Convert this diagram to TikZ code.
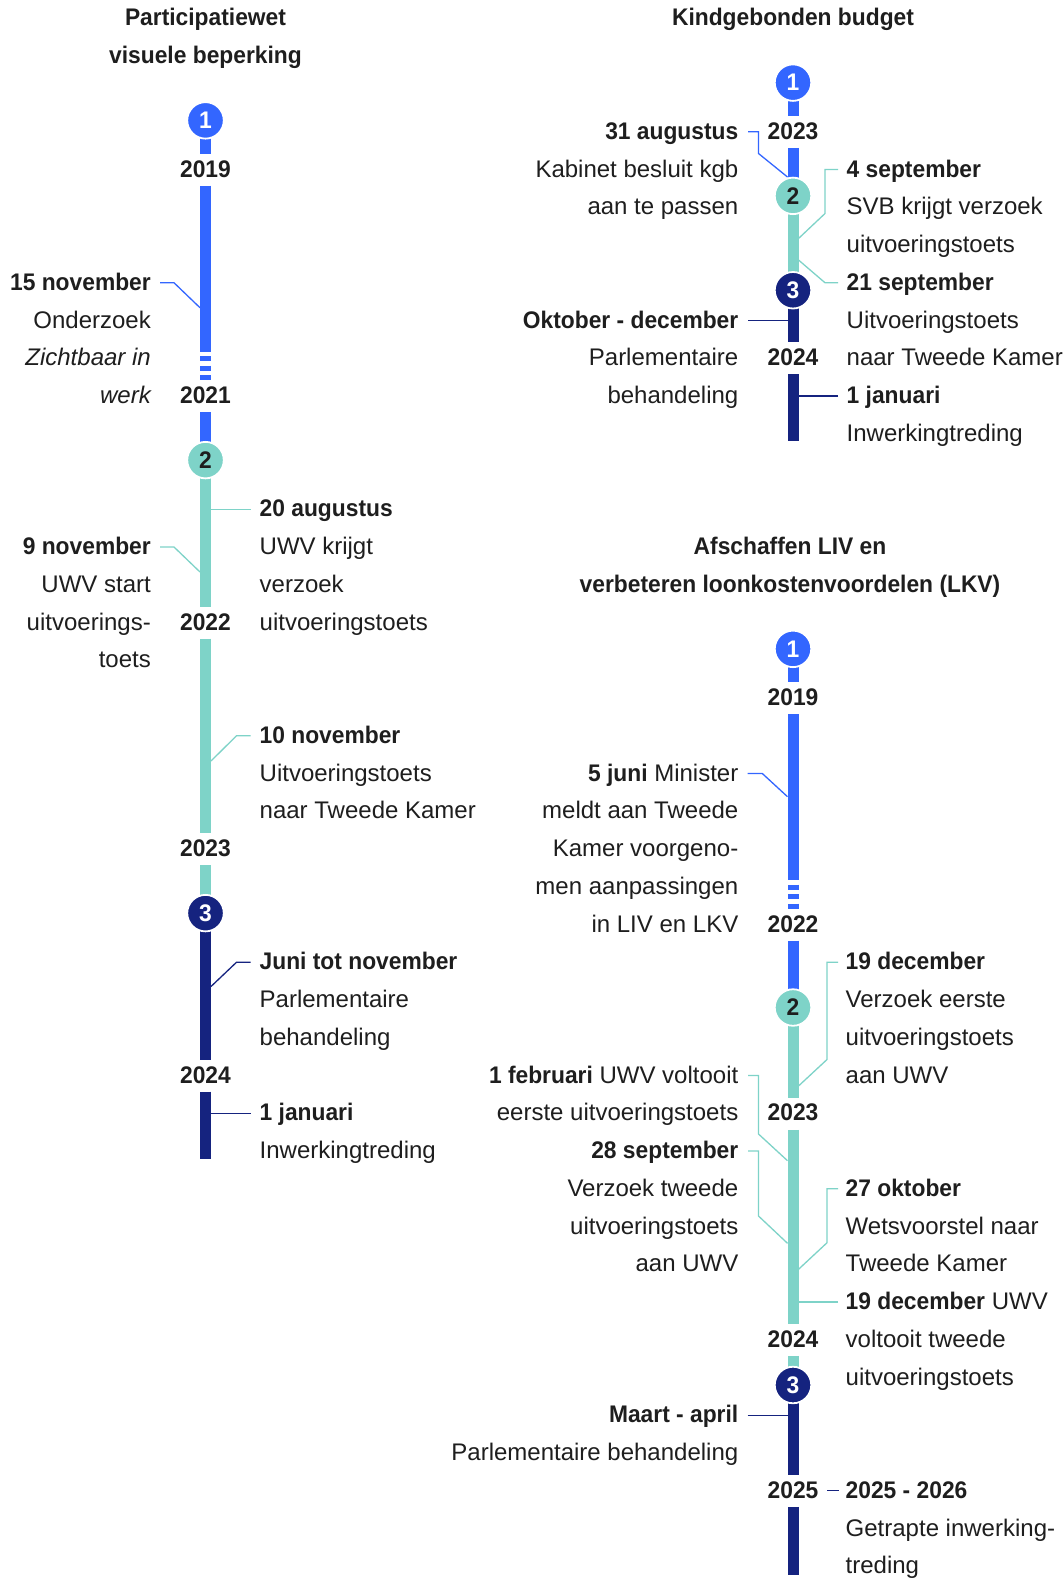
\documentclass[tikz,border=0pt]{standalone}
\usepackage{fontspec}
\setmainfont{Liberation Sans}[BoldFeatures={FakeStretch=0.95}]
\definecolor{cblue}{HTML}{3366FF}
\definecolor{cteal}{HTML}{7ED3C8}
\definecolor{cnavy}{HTML}{15237F}
\definecolor{ink}{HTML}{1E1E1E}
\begin{document}
\begin{tikzpicture}[x=1pt,y=-1pt,
  declare function={ry(\k)=26+37.75*\k;},
  txt/.style={inner sep=0pt, text=ink, font=\fontsize{24}{29}\selectfont},
  lt/.style={txt, anchor=base east},
  rt/.style={txt, anchor=base west},
  ctr/.style={txt, anchor=base, font=\fontsize{24}{29}\selectfont\bfseries},
  bar/.style={line width=11pt, line cap=butt},
  con/.style={line width=1.3pt, line join=miter},
  conB/.style={con, cblue},
  conT/.style={con, cteal},
  conN/.style={con, cnavy},
  num/.style={circle, inner sep=0pt, minimum size=36.5pt, draw=white, line width=1.8pt, font=\fontsize{24}{24}\selectfont\bfseries},
]
\useasboundingbox (0,0) rectangle (1064,1579);
\fill[white] (0,0) rectangle (1064,1579);

% ================= LEFT TIMELINE =================
\draw[bar,cblue] (205.5,120.4) -- (205.5,153.5) (205.5,185.5) -- (205.5,351.5)
  (205.5,356) -- (205.5,361) (205.5,365.5) -- (205.5,370.5) (205.5,375) -- (205.5,380)
  (205.5,412) -- (205.5,460.1);
\draw[bar,cteal] (205.5,460.1) -- (205.5,606.5) (205.5,638.5) -- (205.5,833) (205.5,865) -- (205.5,913.1);
\draw[bar,cnavy] (205.5,913.1) -- (205.5,1059.5) (205.5,1091.5) -- (205.5,1158.5);

\node[num, fill=cblue, text=white] (A1) at (205.5,{ry(2.5)}) {1};
\node[num, fill=cteal, text=ink] (A2) at (205.5,{ry(11.5)}) {2};
\node[num, fill=cnavy, text=white] (A3) at (205.5,{ry(23.5)}) {3};

\node[ctr] (At1) at (205.5,{ry(0)}) {Participatiewet};
\node[ctr] (At2) at (205.5,{ry(1)}) {visuele beperking};
\node[ctr] (Ay19) at (205.5,{ry(4)}) {2019};
\node[ctr] (Ay21) at (205.5,{ry(10)}) {2021};
\node[ctr] (Ay22) at (205.5,{ry(16)}) {2022};
\node[ctr] (Ay23) at (205.5,{ry(22)}) {2023};
\node[ctr] (Ay24) at (205.5,{ry(28)}) {2024};

\node[lt] (A7l) at (151,{ry(7)}) {\textbf{15 november}};
\node[lt] (A8l) at (151,{ry(8)}) {Onderzoek};
\node[lt] (A9l) at (151,{ry(9)}) {\itshape Zichtbaar in};
\node[lt] (A10l) at (151,{ry(10)}) {\itshape werk};
\node[lt] (A14l) at (151,{ry(14)}) {\textbf{9 november}};
\node[lt] (A15l) at (151,{ry(15)}) {UWV start};
\node[lt] (A16l) at (151,{ry(16)}) {uitvoerings-};
\node[lt] (A17l) at (151,{ry(17)}) {toets};

\node[rt] (A13r) at (259.5,{ry(13)}) {\textbf{20 augustus}};
\node[rt] (A14r) at (259.5,{ry(14)}) {UWV krijgt};
\node[rt] (A15r) at (259.5,{ry(15)}) {verzoek};
\node[rt] (A16r) at (259.5,{ry(16)}) {uitvoeringstoets};
\node[rt] (A19r) at (259.5,{ry(19)}) {\textbf{10 november}};
\node[rt] (A20r) at (259.5,{ry(20)}) {Uitvoeringstoets};
\node[rt] (A21r) at (259.5,{ry(21)}) {naar Tweede Kamer};
\node[rt] (A25r) at (259.5,{ry(25)}) {\textbf{Juni tot november}};
\node[rt] (A26r) at (259.5,{ry(26)}) {Parlementaire};
\node[rt] (A27r) at (259.5,{ry(27)}) {behandeling};
\node[rt] (A29r) at (259.5,{ry(29)}) {\textbf{1 januari}};
\node[rt] (A30r) at (259.5,{ry(30)}) {Inwerkingtreding};

\coordinate (Ap7) at (200,307.75);
\coordinate (Ap14) at (200,572);
\coordinate (Ap13) at (211,509.25);
\coordinate (Ap19) at (211,761);
\coordinate (Ap25) at (211,986.5);
\coordinate (Ap29) at (211,1113.25);
\draw[conB] ([xshift=9pt,yshift=7.5pt]A7l.base east) -- ++(14,0) -- (Ap7);
\draw[conT] ([xshift=9pt,yshift=7.5pt]A14l.base east) -- ++(14,0) -- (Ap14);
\draw[conT] ([xshift=-9pt,yshift=7.5pt]A13r.base west) -- (Ap13);
\draw[conT] ([xshift=-9pt,yshift=7.5pt]A19r.base west) -- ++(-14,0) -- (Ap19);
\draw[conN] ([xshift=-9pt,yshift=7.5pt]A25r.base west) -- ++(-14,0) -- (Ap25);
\draw[conN] ([xshift=-9pt,yshift=7.5pt]A29r.base west) -- (Ap29);

% ================= TOP RIGHT TIMELINE =================
\draw[bar,cblue] (793,82.6) -- (793,115.75) (793,147.75) -- (793,195.9);
\draw[bar,cteal] (793,195.9) -- (793,290.25);
\draw[bar,cnavy] (793,290.25) -- (793,342.25) (793,374.25) -- (793,441.25);

\node[num, fill=cblue, text=white] (B1) at (793,{ry(1.5)}) {1};
\node[num, fill=cteal, text=ink] (B2) at (793,{ry(4.5)}) {2};
\node[num, fill=cnavy, text=white] (B3) at (793,{ry(7)}) {3};

\node[ctr] (Bt1) at (793,{ry(0)}) {Kindgebonden budget};
\node[ctr] (By23) at (793,{ry(3)}) {2023};
\node[ctr] (By24) at (793,{ry(9)}) {2024};

\node[lt] (B3l) at (738.5,{ry(3)}) {\textbf{31 augustus}};
\node[lt] (B4l) at (738.5,{ry(4)}) {Kabinet besluit kgb};
\node[lt] (B5l) at (738.5,{ry(5)}) {aan te passen};
\node[lt] (B8l) at (738.5,{ry(8)}) {\textbf{Oktober - december}};
\node[lt] (B9l) at (738.5,{ry(9)}) {Parlementaire};
\node[lt] (B10l) at (738.5,{ry(10)}) {behandeling};

\node[rt] (B4r) at (846.5,{ry(4)}) {\textbf{4 september}};
\node[rt] (B5r) at (846.5,{ry(5)}) {SVB krijgt verzoek};
\node[rt] (B6r) at (846.5,{ry(6)}) {uitvoeringstoets};
\node[rt] (B7r) at (846.5,{ry(7)}) {\textbf{21 september}};
\node[rt] (B8r) at (846.5,{ry(8)}) {Uitvoeringstoets};
\node[rt] (B9r) at (846.5,{ry(9)}) {naar Tweede Kamer};
\node[rt] (B10r) at (846.5,{ry(10)}) {\textbf{1 januari}};
\node[rt] (B11r) at (846.5,{ry(11)}) {Inwerkingtreding};

\coordinate (Bp3) at (787.5,177);
\coordinate (Bp4) at (798.5,238.5);
\coordinate (Bp7) at (798.5,260);
\coordinate (Bp8) at (787.5,320.5);
\coordinate (Bp10) at (798.5,396);
\draw[conB] ([xshift=9.5pt,yshift=7.5pt]B3l.base east) -- ++(10.5,0) -- ++(0,21.75) -- (Bp3);
\draw[conT] ([xshift=-8.5pt,yshift=7.5pt]B4r.base west) -- ++(-13,0) -- ++(0,44) -- (Bp4);
\draw[conT] ([xshift=-8.5pt,yshift=7.5pt]B7r.base west) -- ++(-13,0) -- (Bp7);
\draw[conN] ([xshift=9.5pt,yshift=7.5pt]B8l.base east) -- (Bp8);
\draw[conN] ([xshift=-8.5pt,yshift=7.5pt]B10r.base west) -- (Bp10);

% ================= LOWER RIGHT TIMELINE =================
\draw[bar,cblue] (793,648.9) -- (793,682) (793,714) -- (793,880)
  (793,884.5) -- (793,889.5) (793,894) -- (793,899) (793,903.5) -- (793,908.5)
  (793,940.5) -- (793,1007.5);
\draw[bar,cteal] (793,1007.5) -- (793,1097.75) (793,1129.75) -- (793,1323.75) (793,1355.75) -- (793,1385);
\draw[bar,cnavy] (793,1385) -- (793,1474.75) (793,1506.75) -- (793,1575);

\node[num, fill=cblue, text=white] (C1) at (793,{ry(16.5)}) {1};
\node[num, fill=cteal, text=ink] (C2) at (793,{ry(26)}) {2};
\node[num, fill=cnavy, text=white] (C3) at (793,{ry(36)}) {3};

\node[ctr] (Ct1) at (790,{ry(14)}) {Afschaffen LIV en};
\node[ctr] (Ct2) at (790,{ry(15)}) {verbeteren loonkostenvoordelen (LKV)};
\node[ctr] (Cy19) at (793,{ry(18)}) {2019};
\node[ctr] (Cy22) at (793,{ry(24)}) {2022};
\node[ctr] (Cy23) at (793,{ry(29)}) {2023};
\node[ctr] (Cy24) at (793,{ry(35)}) {2024};
\node[ctr] (Cy25) at (793,{ry(39)}) {2025};

\node[lt] (C20l) at (738.5,{ry(20)}) {\textbf{5 juni} Minister};
\node[lt] (C21l) at (738.5,{ry(21)}) {meldt aan Tweede};
\node[lt] (C22l) at (738.5,{ry(22)}) {Kamer voorgeno-};
\node[lt] (C23l) at (738.5,{ry(23)}) {men aanpassingen};
\node[lt] (C24l) at (738.5,{ry(24)}) {in LIV en LKV};
\node[lt] (C28l) at (738.5,{ry(28)}) {\textbf{1 februari} UWV voltooit};
\node[lt] (C29l) at (738.5,{ry(29)}) {eerste uitvoeringstoets};
\node[lt] (C30l) at (738.5,{ry(30)}) {\textbf{28 september}};
\node[lt] (C31l) at (738.5,{ry(31)}) {Verzoek tweede};
\node[lt] (C32l) at (738.5,{ry(32)}) {uitvoeringstoets};
\node[lt] (C33l) at (738.5,{ry(33)}) {aan UWV};
\node[lt] (C37l) at (738.5,{ry(37)}) {\textbf{Maart - april}};
\node[lt] (C38l) at (738.5,{ry(38)}) {Parlementaire behandeling};

\node[rt] (C25r) at (845.5,{ry(25)}) {\textbf{19 december}};
\node[rt] (C26r) at (845.5,{ry(26)}) {Verzoek eerste};
\node[rt] (C27r) at (845.5,{ry(27)}) {uitvoeringstoets};
\node[rt] (C28r) at (845.5,{ry(28)}) {aan UWV};
\node[rt] (C31r) at (845.5,{ry(31)}) {\textbf{27 oktober}};
\node[rt] (C32r) at (845.5,{ry(32)}) {Wetsvoorstel naar};
\node[rt] (C33r) at (845.5,{ry(33)}) {Tweede Kamer};
\node[rt] (C34r) at (845.5,{ry(34)}) {\textbf{19 december} UWV};
\node[rt] (C35r) at (845.5,{ry(35)}) {voltooit tweede};
\node[rt] (C36r) at (845.5,{ry(36)}) {uitvoeringstoets};
\node[rt] (C39r) at (845.5,{ry(39)}) {\textbf{2025 - 2026}};
\node[rt] (C40r) at (845.5,{ry(40)}) {Getrapte inwerking-};
\node[rt] (C41r) at (845.5,{ry(41)}) {treding};

\coordinate (Cp20) at (787.5,796.7);
\coordinate (Cp25) at (798.5,1086);
\coordinate (Cp28) at (787.5,1160.7);
\coordinate (Cp30) at (787.5,1243.3);
\coordinate (Cp31) at (798.5,1269.3);
\coordinate (Cp34) at (798.5,1302);
\coordinate (Cp37) at (787.5,1415.25);
\draw[conB] ([xshift=9pt,yshift=7.5pt]C20l.base east) -- ++(14.8,0) -- (Cp20);
\draw[conT] ([xshift=-7.5pt,yshift=7.5pt]C25r.base west) -- ++(-11,0) -- ++(0,97.25) -- (Cp25);
\draw[conT] ([xshift=9.5pt,yshift=7.5pt]C28l.base east) -- ++(10.5,0) -- ++(0,58.5) -- (Cp28);
\draw[conT] ([xshift=9.5pt,yshift=7.5pt]C30l.base east) -- ++(10.5,0) -- ++(0,65) -- (Cp30);
\draw[conT] ([xshift=-7.5pt,yshift=7.5pt]C31r.base west) -- ++(-11,0) -- ++(0,54) -- (Cp31);
\draw[conT] ([xshift=-7.5pt,yshift=7.5pt]C34r.base west) -- (Cp34);
\draw[conN] ([xshift=9pt,yshift=7.5pt]C37l.base east) -- (Cp37);
\draw[conN] ([xshift=-7pt,yshift=7.5pt]C39r.base west) -- ++(-11.7,0);
\end{tikzpicture}
\end{document}
